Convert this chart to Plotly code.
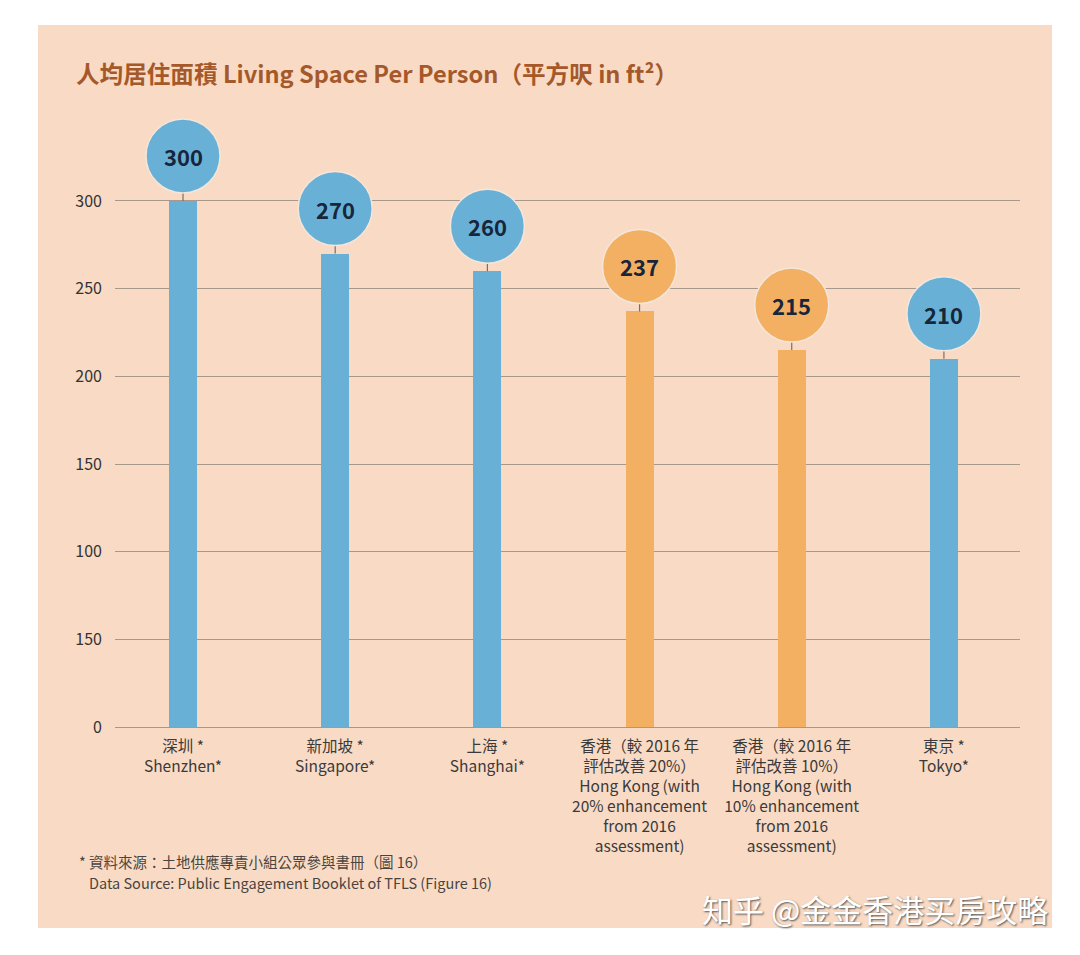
import plotly.graph_objects as go

categories = ["深圳 *<br>Shenzhen*", "新加坡 *<br>Singapore*", "上海 *<br>Shanghai*",
              "香港（較 2016 年<br>評估改善 20%）<br>Hong Kong (with<br>20% enhancement<br>from 2016<br>assessment)",
              "香港（較 2016 年<br>評估改善 10%）<br>Hong Kong (with<br>10% enhancement<br>from 2016<br>assessment)",
              "東京 *<br>Tokyo*"]
values = [300, 270, 260, 237, 215, 210]
is_hk = [False, False, False, True, True, False]
y_tick_vals = [0, 50, 100, 150, 200, 250, 300]
y_tick_text = ["0", "150", "100", "150", "200", "250", "300"]

BLUE = "#69B0D7"
ORANGE = "#F3B062"
PEACH = "#F9DBC5"
FONT = "Noto Sans CJK TC"

colors = [ORANGE if h else BLUE for h in is_hk]
xs = list(range(len(values)))

fig = go.Figure()
fig.add_trace(go.Bar(x=xs, y=values, marker=dict(color=colors, line=dict(width=0)),
                     width=0.184, hoverinfo="skip"))

shapes = [dict(type="rect", xref="paper", yref="paper", x0=-0.0851, x1=1.0354,
               y0=-0.3206, y1=1.1196, fillcolor=PEACH, line=dict(width=0), layer="below")]
annotations = []
for x, v, c in zip(xs, values, colors):
    shapes.append(dict(type="line", xref="x", yref="y", xsizemode="pixel", ysizemode="pixel",
                       xanchor=x, yanchor=v, x0=0, x1=0, y0=0, y1=9,
                       line=dict(color="#7d6e62", width=1.2)))
    shapes.append(dict(type="circle", xref="x", yref="y", xsizemode="pixel", ysizemode="pixel",
                       xanchor=x, yanchor=v, x0=-37, x1=37, y0=8, y1=82,
                       fillcolor=c, line=dict(color="#f3e6da", width=1.5)))
    annotations.append(dict(x=x, y=v, xref="x", yref="y", yshift=45, showarrow=False,
                            text=f"<b>{v}</b>", font=dict(family=FONT, size=22, color="#17263a")))

annotations.append(dict(xref="paper", yref="paper", x=-0.0453, y=1.043, xanchor="left", yanchor="middle",
                        showarrow=False,
                        text="<b>人均居住面積 Living Space Per Person（平方呎 in ft²）</b>",
                        font=dict(family=FONT, size=23.6, color="#A5592B")))
annotations.append(dict(xref="paper", yref="paper", x=-0.042, y=-0.2153, xanchor="left", yanchor="middle",
                        showarrow=False, align="left",
                        text="* 資料來源：土地供應專責小組公眾參與書冊（圖 16）",
                        font=dict(family=FONT, size=14.5, color="#4a4440")))
annotations.append(dict(xref="paper", yref="paper", x=-0.0309, y=-0.2488, xanchor="left", yanchor="middle",
                        showarrow=False, align="left",
                        text="Data Source: Public Engagement Booklet of TFLS (Figure 16)",
                        font=dict(family=FONT, size=14.5, color="#4a4440")))
annotations.append(dict(xref="paper", yref="paper", x=1.0331, y=-0.2887, xanchor="right", yanchor="middle",
                        showarrow=False,
                        text="知乎 @金金香港买房攻略",
                        font=dict(family=FONT, size=31, color="white",
                                  shadow="1px 1px 2px #555")))

fig.update_layout(
    width=1080, height=955,
    margin=dict(l=107, r=68, t=92, b=236),
    paper_bgcolor="white", plot_bgcolor="rgba(0,0,0,0)",
    showlegend=False, bargap=0,
    shapes=shapes, annotations=annotations,
    font=dict(family=FONT, color="#333333"),
    xaxis=dict(range=[-0.447, 5.5], tickmode="array", tickvals=xs, ticktext=categories,
               showgrid=False, zeroline=False, showline=False, ticks="",
               tickfont=dict(family=FONT, size=15.5, color="#3a3a3a"), ticklabelstandoff=8),
    yaxis=dict(range=[0, 357.6], tickmode="array", tickvals=y_tick_vals, ticktext=y_tick_text,
               showgrid=True, gridcolor="#a8988c", gridwidth=1.3, zeroline=True,
               zerolinecolor="#a8988c", zerolinewidth=1.3, showline=False, ticks="",
               tickfont=dict(family=FONT, size=16, color="#333333"), ticklabelstandoff=12),
)

fig.write_html("out.html")
